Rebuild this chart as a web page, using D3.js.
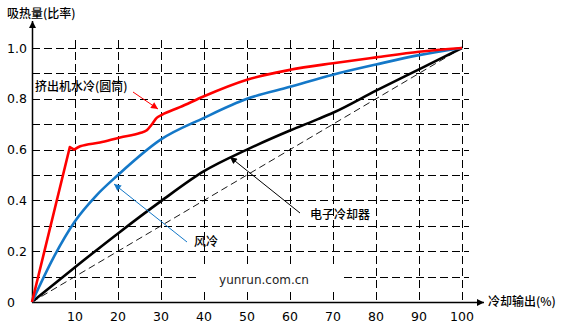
<!DOCTYPE html>
<html>
<head>
<meta charset="utf-8">
<script src="https://cdn.jsdelivr.net/npm/d3@7"></script>
<style>
  html, body { margin: 0; padding: 0; background: #fff; }
  svg { display: block; }
  text { font-family: "DejaVu Sans", "Noto Sans CJK SC", sans-serif; fill: #000; }
  .cjk { font-family: "Noto Sans CJK SC", "DejaVu Sans", sans-serif; font-weight: 500; }
</style>
</head>
<body>
<svg id="chart" width="564" height="327"></svg>
<script>
// Cooling output (%) vs. heat absorption ratio for three cooling methods
const xTicks = [10, 20, 30, 40, 50, 60, 70, 80, 90, 100];
const yTicks = [0, 0.2, 0.4, 0.6, 0.8, 1.0];
const yTickLabels = ["0", "0.2", "0.4", "0.6", "0.8", "1.0"];
const yGrid = [0.1, 0.2, 0.3, 0.4, 0.5, 0.6, 0.7, 0.8, 0.9, 1.0];

// Extruder water cooling (barrel)
const waterX = [0, 8.8, 9.8, 11.2, 15.8, 20.5, 25.1, 26.7, 27.8, 29, 30.2, 34.4, 40, 50, 60, 70, 80, 90, 100];
const waterY = [0, 0.61, 0.60, 0.613, 0.628, 0.648, 0.665, 0.676, 0.698, 0.725, 0.737, 0.767, 0.81, 0.875, 0.914, 0.94, 0.963, 0.985, 1.0];
// Air cooling
const airX = [0, 5, 10, 15, 20, 30, 40, 50, 60, 70, 80, 90, 100];
const airY = [0, 0.175, 0.318, 0.42, 0.50, 0.64, 0.725, 0.80, 0.847, 0.895, 0.935, 0.972, 1.0];
// Electronic cooler
const elecX = [0, 10, 20, 30, 40, 50, 60, 66.5, 70, 80, 90, 100];
const elecY = [0, 0.137, 0.27, 0.397, 0.515, 0.60, 0.675, 0.72, 0.745, 0.832, 0.916, 1.0];
// Proportional reference
const refX = [0, 100];
const refY = [0, 1.0];

const svg = d3.select("#chart");
const x = d3.scaleLinear().domain([0, 100]).range([32, 462]);
const y = d3.scaleLinear().domain([0, 1]).range([302, 48]);
const px = v => Math.round(v) + 0.5;

// arrowhead markers
const defs = svg.append("defs");
function marker(id, color, w, h) {
  defs.append("marker")
    .attr("id", id).attr("viewBox", "0 0 10 10")
    .attr("refX", 10).attr("refY", 5)
    .attr("markerWidth", w).attr("markerHeight", h)
    .attr("markerUnits", "userSpaceOnUse")
    .attr("orient", "auto")
    .append("path").attr("d", "M0,0 L10,5 L0,10 Z").attr("fill", color);
}
marker("arrRed", "#ff0000", 10, 7);
marker("arrBlue", "#1478c8", 10, 7);
marker("arrBlack", "#000", 10, 7);
marker("axisArr", "#000", 13, 7);

// dashed grid
const grid = svg.append("g").attr("stroke", "#000").attr("stroke-width", 1)
  .attr("stroke-dasharray", "8,4").attr("fill", "none");
grid.selectAll("line.h").data(yGrid).join("line").attr("class", "h")
  .attr("x1", x(0)).attr("x2", 469)
  .attr("y1", d => px(y(d))).attr("y2", d => px(y(d)));
grid.selectAll("line.v").data(xTicks).join("line").attr("class", "v")
  .attr("y1", 40).attr("y2", y(0))
  .attr("x1", d => px(x(d))).attr("x2", d => px(x(d)));

// watermark backdrop
svg.append("rect").attr("x", 196).attr("y", 268).attr("width", 148).attr("height", 20).attr("fill", "#fff");
svg.append("text").attr("x", 264).attr("y", 284).attr("text-anchor", "middle")
  .attr("font-size", 12).style("fill", "#222").text("yunrun.com.cn");

// axes with arrows
svg.append("line").attr("x1", px(x(0))).attr("x2", px(x(0))).attr("y1", y(0) + 0.5).attr("y2", 21)
  .attr("stroke", "#000").attr("stroke-width", 1.5).attr("marker-end", "url(#axisArr)");
svg.append("line").attr("x1", x(0)).attr("x2", 484).attr("y1", px(y(0))).attr("y2", px(y(0)))
  .attr("stroke", "#000").attr("stroke-width", 1.5).attr("marker-end", "url(#axisArr)");

// tick labels
svg.selectAll("text.yt").data(yTicks).join("text").attr("class", "yt")
  .attr("x", 7).attr("y", d => y(d) + 4.5).attr("font-size", 12.5)
  .text((d, i) => yTickLabels[i]);
svg.selectAll("text.xt").data(xTicks).join("text").attr("class", "xt")
  .attr("x", d => x(d)).attr("y", 321).attr("text-anchor", "middle").attr("font-size", 12.5)
  .text(d => d);

svg.append("text").attr("class", "cjk").attr("x", 7).attr("y", 18).attr("font-size", 12).text("吸热量(比率)");
svg.append("text").attr("class", "cjk").attr("x", 488).attr("y", 306).attr("font-size", 12).text("冷却输出(%)");

// series
const line = d3.line().x(d => x(d[0])).y(d => y(d[1]));
svg.append("path").datum(d3.zip(refX, refY)).attr("d", line.curve(d3.curveLinear))
  .attr("fill", "none").attr("stroke", "#000").attr("stroke-width", 0.9).attr("stroke-dasharray", "7,4");

const smooth = d3.line().x(d => x(d[0])).y(d => y(d[1])).curve(d3.curveMonotoneX);
svg.append("path").datum(d3.zip(elecX, elecY)).attr("d", smooth)
  .attr("fill", "none").attr("stroke", "#000").attr("stroke-width", 2.6);
svg.append("path").datum(d3.zip(airX, airY)).attr("d", smooth)
  .attr("fill", "none").attr("stroke", "#1478c8").attr("stroke-width", 2.6);

// water cooling: straight rise to the peak, then a smooth curve
const water = d3.zip(waterX, waterY);
const rise = line.curve(d3.curveLinear)(water.slice(0, 3));
const rest = smooth(water.slice(2));
svg.append("path").attr("d", rise + rest.replace(/^M/, "L"))
  .attr("fill", "none").attr("stroke", "#ff0000").attr("stroke-width", 2.6)
  .attr("stroke-linejoin", "round");

// callouts
svg.append("text").attr("class", "cjk").attr("x", 35).attr("y", 91).attr("font-size", 12).text("挤出机水冷(圆筒)");
svg.append("line").attr("x1", 133).attr("y1", 92).attr("x2", 158).attr("y2", 109)
  .attr("stroke", "#ff0000").attr("stroke-width", 1).attr("marker-end", "url(#arrRed)");

svg.append("text").attr("class", "cjk").attr("x", 194).attr("y", 246).attr("font-size", 12).text("风冷");
svg.append("line").attr("x1", 187).attr("y1", 242).attr("x2", 114).attr("y2", 184)
  .attr("stroke", "#1478c8").attr("stroke-width", 1).attr("marker-end", "url(#arrBlue)");

svg.append("text").attr("class", "cjk").attr("x", 310).attr("y", 219).attr("font-size", 12).text("电子冷却器");
svg.append("line").attr("x1", 300).attr("y1", 213).attr("x2", 230).attr("y2", 157)
  .attr("stroke", "#000").attr("stroke-width", 1).attr("marker-end", "url(#arrBlack)");
</script>
</body>
</html>
